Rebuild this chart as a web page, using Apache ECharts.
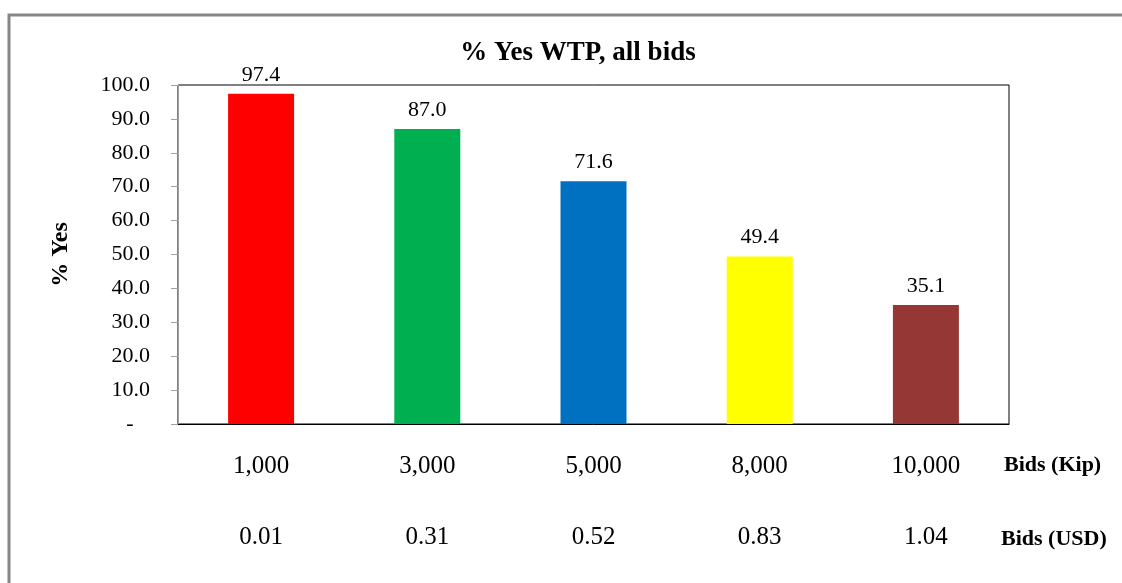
<!DOCTYPE html>
<html>
<head>
<meta charset="utf-8" />
<script src="https://cdn.jsdelivr.net/npm/echarts@6/dist/echarts.min.js"></script>
<style>
  html, body { margin: 0; padding: 0; background: #fff; }
  #chart { width: 1122px; height: 583px; }
</style>
</head>
<body>
<div id="chart"></div>
<script>
// data
const bidsKip = ["1,000", "3,000", "5,000", "8,000", "10,000"];
const bidsUsd = ["0.01", "0.31", "0.52", "0.83", "1.04"];
const pctYes = [97.4, 87.0, 71.6, 49.4, 35.1];
const barColors = ["#ff0000", "#00b050", "#0070c0", "#ffff00", "#953735"];

const serif = "'Liberation Serif', 'DejaVu Serif', serif";

const chart = echarts.init(document.getElementById("chart"));
chart.setOption({
  animation: false,
  textStyle: { fontFamily: serif, color: "#000" },
  title: {
    text: "% Yes WTP, all bids",
    left: 573,
    textAlign: "center",
    top: 35,
    textStyle: { fontFamily: serif, fontSize: 27, fontWeight: "bold", color: "#000" },
  },
  grid: {
    left: 178,
    right: 113,
    top: 85,
    bottom: 159,
    show: true,
    borderColor: "#000",
    borderWidth: 1,
  },
  xAxis: [
    {
      type: "category",
      data: bidsKip,
      axisLine: { lineStyle: { color: "#000", width: 1 } },
      axisTick: { show: false },
      axisLabel: { margin: 30, fontSize: 25, color: "#000", fontFamily: serif },
    },
    {
      type: "category",
      data: bidsUsd,
      position: "bottom",
      axisLine: { show: false },
      axisTick: { show: false },
      axisLabel: { margin: 101, fontSize: 25, color: "#000", fontFamily: serif },
    },
  ],
  yAxis: {
    type: "value",
    min: 0,
    max: 100,
    interval: 10,
    name: "% Yes",
    nameLocation: "middle",
    nameRotate: 90,
    nameGap: 105,
    nameTextStyle: { fontFamily: serif, fontSize: 24, fontWeight: "bold", color: "#000" },
    axisLine: { show: true, lineStyle: { color: "#a0a0a0", width: 1 } },
    axisTick: { show: true, inside: false, length: 7, lineStyle: { color: "#a0a0a0" } },
    splitLine: { show: false },
    axisLabel: {
      margin: 28,
      fontSize: 22,
      color: "#000",
      fontFamily: serif,
      formatter: (v) => (v === 0 ? "-   " : v.toFixed(1)),
    },
  },
  series: [
    {
      type: "bar",
      barWidth: 66,
      data: pctYes.map((v, i) => ({ value: v, itemStyle: { color: barColors[i] } })),
      label: {
        show: true,
        position: "top",
        distance: 8,
        fontSize: 22,
        color: "#000",
        fontFamily: serif,
        formatter: (p) => p.value.toFixed(1),
      },
    },
  ],
  graphic: [
    {
      type: "rect",
      shape: { x: 9, y: 15, width: 1300, height: 800 },
      style: { fill: "none", stroke: "#868686", lineWidth: 3 },
      silent: true,
    },
    {
      type: "text",
      left: 1004,
      top: 454,
      style: { text: "Bids (Kip)", font: "bold 22px " + serif, fill: "#000" },
    },
    {
      type: "text",
      left: 1001,
      top: 528,
      style: { text: "Bids (USD)", font: "bold 22px " + serif, fill: "#000" },
    },
  ],
});
</script>
</body>
</html>
